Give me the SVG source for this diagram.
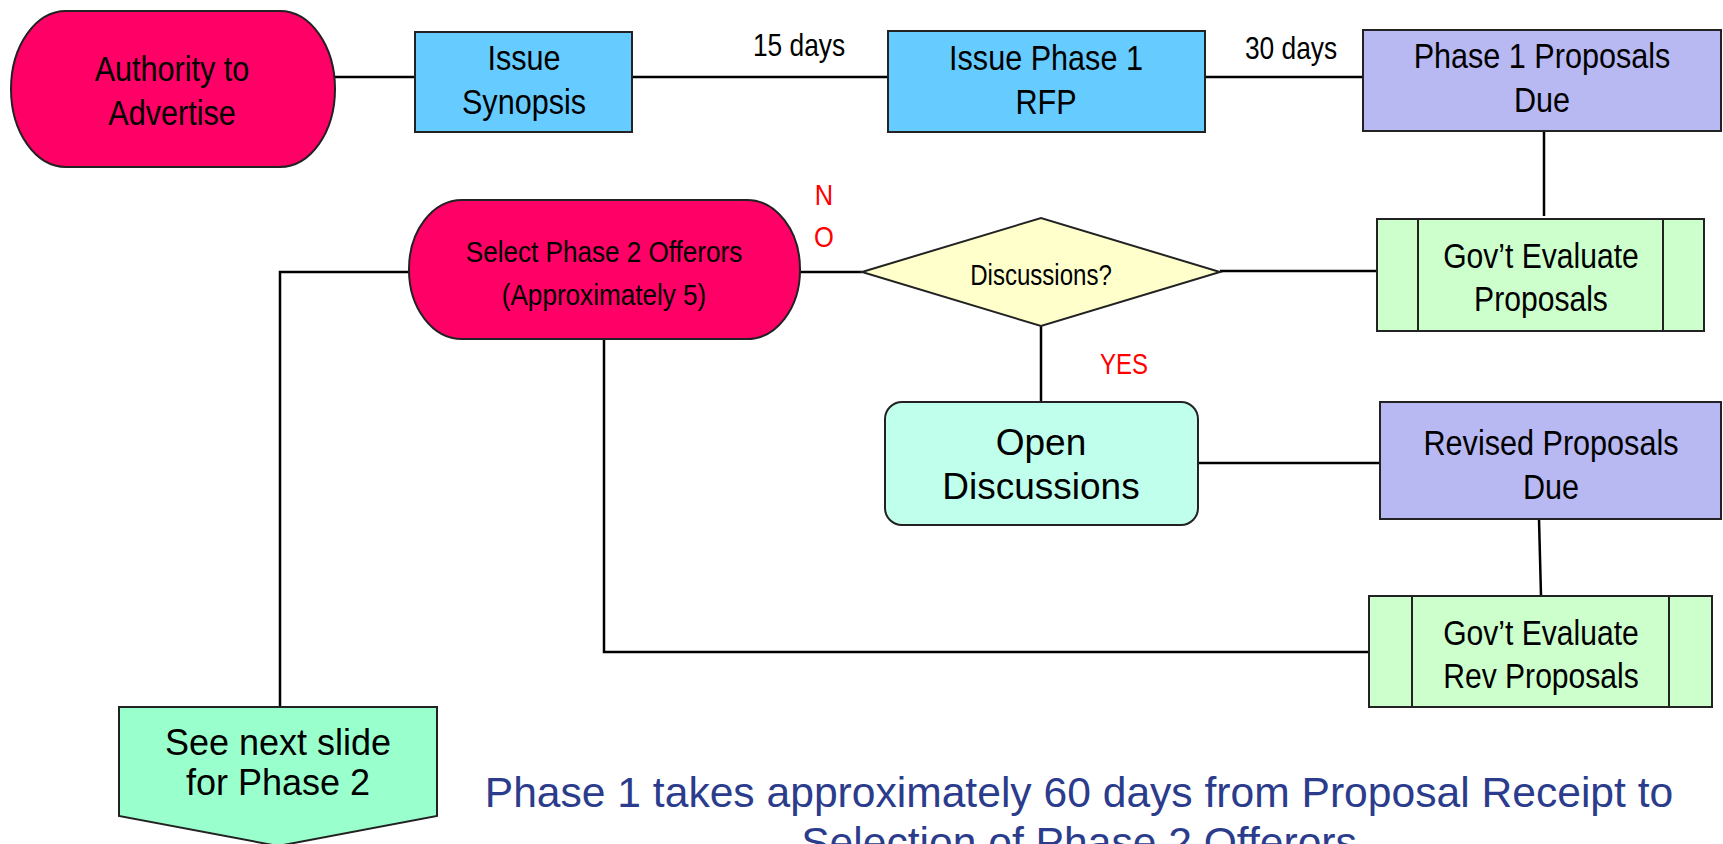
<svg xmlns="http://www.w3.org/2000/svg" width="1723" height="844" viewBox="0 0 1723 844">
<style>
.bg{fill:#ffffff}
.edge{stroke:#000;stroke-width:2.5;fill:none}
.box{stroke:#222;stroke-width:2}
.pink{fill:#FF0066}
.blue{fill:#66CCFF}
.lav{fill:#B8B8F2}
.green{fill:#CCFFCC}
.yellow{fill:#FFFFCC}
.mint{fill:#BFFFEB}
.sea{fill:#99FFCC}
.n{font-family:"Liberation Sans",Arial,sans-serif;fill:#000;text-anchor:middle}
.r{font-family:"Liberation Sans",Arial,sans-serif;fill:#000;text-anchor:middle}
.red{fill:#FF0000}
.cap{font-family:"Liberation Sans",Arial,sans-serif;fill:#2B3C8C;text-anchor:middle;font-size:42.6px}
</style>
<rect class="bg" x="0" y="0" width="1723" height="844"/>
<g id="connectors">
<line class="edge" x1="335" y1="77" x2="415" y2="77"/>
<line class="edge" x1="632" y1="77" x2="888" y2="77"/>
<line class="edge" x1="1205" y1="77" x2="1363" y2="77"/>
<line class="edge" x1="1544" y1="131" x2="1544" y2="216"/>
<line class="edge" x1="1220" y1="271" x2="1377" y2="271"/>
<line class="edge" x1="800" y1="272" x2="862" y2="272"/>
<polyline class="edge" points="409,272 280,272 280,707"/>
<line class="edge" x1="1041" y1="326" x2="1041" y2="402"/>
<line class="edge" x1="1198" y1="463" x2="1380" y2="463"/>
<line class="edge" x1="1539" y1="519" x2="1541" y2="596"/>
<polyline class="edge" points="604,339 604,652 1369,652"/>
<text class="n" transform="translate(799,56) scale(0.85,1)" font-size="31">15 days</text>
<text class="n" transform="translate(1291,59) scale(0.85,1)" font-size="31">30 days</text>
<text class="n red" transform="translate(824,205) scale(0.85,1)" font-size="30">N</text>
<text class="n red" transform="translate(824,247) scale(0.85,1)" font-size="30">O</text>
<text class="n red" transform="translate(1124,374) scale(0.8,1)" font-size="30">YES</text>
</g>
<g id="authority">
<rect class="box pink" x="11" y="11" width="324" height="156" rx="55" ry="78"/>
<text class="n" transform="translate(172,81) scale(0.85,1)" font-size="36">Authority to</text>
<text class="n" transform="translate(172,125) scale(0.85,1)" font-size="36">Advertise</text>
</g>
<g id="synopsis">
<rect class="box blue" x="415" y="32" width="217" height="100"/>
<text class="n" transform="translate(524,70) scale(0.85,1)" font-size="36">Issue</text>
<text class="n" transform="translate(524,114) scale(0.85,1)" font-size="36">Synopsis</text>
</g>
<g id="rfp">
<rect class="box blue" x="888" y="31" width="317" height="101"/>
<text class="n" transform="translate(1046,70) scale(0.85,1)" font-size="36">Issue Phase 1</text>
<text class="n" transform="translate(1046,114) scale(0.85,1)" font-size="36">RFP</text>
</g>
<g id="p1due">
<rect class="box lav" x="1363" y="30" width="358" height="101"/>
<text class="n" transform="translate(1542,68) scale(0.85,1)" font-size="36">Phase 1 Proposals</text>
<text class="n" transform="translate(1542,112) scale(0.85,1)" font-size="36">Due</text>
</g>
<g id="goveval">
<rect class="box green" x="1377" y="219" width="327" height="112"/>
<line class="box" x1="1418" y1="219" x2="1418" y2="331"/>
<line class="box" x1="1663" y1="219" x2="1663" y2="331"/>
<text class="n" transform="translate(1541,268) scale(0.86,1)" font-size="35">Gov’t Evaluate</text>
<text class="n" transform="translate(1541,311) scale(0.86,1)" font-size="35">Proposals</text>
</g>
<g id="discussions">
<polygon class="box yellow" points="862,272 1041,218 1220,272 1041,326"/>
<text class="n" transform="translate(1041,285) scale(0.83,1)" font-size="29">Discussions?</text>
</g>
<g id="select">
<rect class="box pink" x="409" y="200" width="391" height="139" rx="53" ry="69"/>
<text class="n" transform="translate(604,262) scale(0.87,1)" font-size="30">Select Phase 2 Offerors</text>
<text class="n" transform="translate(604,305) scale(0.87,1)" font-size="30">(Approximately 5)</text>
</g>
<g id="open">
<rect class="box mint" x="885" y="402" width="313" height="123" rx="17" ry="17"/>
<text class="r" x="1041" y="455" font-size="37">Open</text>
<text class="r" x="1041" y="499" font-size="37">Discussions</text>
</g>
<g id="reviseddue">
<rect class="box lav" x="1380" y="402" width="341" height="117"/>
<text class="n" transform="translate(1551,455) scale(0.85,1)" font-size="36">Revised Proposals</text>
<text class="n" transform="translate(1551,499) scale(0.85,1)" font-size="36">Due</text>
</g>
<g id="govevalrev">
<rect class="box green" x="1369" y="596" width="343" height="111"/>
<line class="box" x1="1412" y1="596" x2="1412" y2="707"/>
<line class="box" x1="1669" y1="596" x2="1669" y2="707"/>
<text class="n" transform="translate(1541,645) scale(0.86,1)" font-size="35">Gov’t Evaluate</text>
<text class="n" transform="translate(1541,688) scale(0.86,1)" font-size="35">Rev Proposals</text>
</g>
<g id="nextslide">
<polygon class="box sea" points="119,707 437,707 437,816 278,846 119,816"/>
<text class="r" x="278" y="755" font-size="36">See next slide</text>
<text class="r" x="278" y="795" font-size="36">for Phase 2</text>
</g>
<g id="caption">
<text class="cap" x="1079" y="807">Phase 1 takes approximately 60 days from Proposal Receipt to</text>
<text class="cap" x="1079" y="857">Selection of Phase 2 Offerors</text>
</g>
</svg>
